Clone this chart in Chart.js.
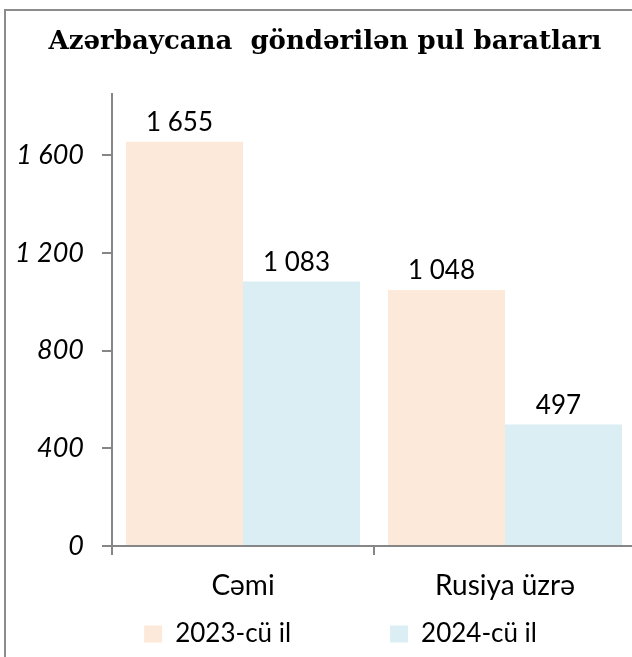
<!DOCTYPE html>
<html>
<head>
<meta charset="utf-8">
<script src="https://cdn.jsdelivr.net/npm/chart.js@4.4.1/dist/chart.umd.min.js"></script>
<style>
  html, body { margin: 0; padding: 0; background: #fff; overflow: hidden; }
  #wrap { position: relative; width: 632px; height: 657px; overflow: hidden; }
  #frame { position: absolute; left: 4px; top: 9px; width: 700px; height: 700px;
           border-left: 2px solid #8c8c8c; border-top: 2px solid #8c8c8c; }
  #chart { position: absolute; left: 0; top: 0; }
</style>
</head>
<body>
<div id="wrap">
  <div id="frame"></div>
  <canvas id="chart" width="640" height="657"></canvas>
</div>
<script>
const categories = ["Cəmi", "Rusiya üzrə"];
const seriesNames = ["2023-cü il", "2024-cü il"];
const values2023 = [1655, 1048];
const values2024 = [1083, 497];
const yTicks = [0, 400, 800, 1200, 1600];
const yMax = 1850;

const axisGray = "#868686";
const fmt = v => String(v).replace(/\B(?=(\d{3})+(?!\d))/g, " ");

// value labels above each bar
const barValueLabels = {
  id: "barValueLabels",
  afterDatasetsDraw(chart) {
    const ctx = chart.ctx;
    ctx.save();
    ctx.font = "26px Lato";
    ctx.fillStyle = "#000";
    ctx.textAlign = "center";
    ctx.textBaseline = "bottom";
    chart.data.datasets.forEach((ds, i) => {
      chart.getDatasetMeta(i).data.forEach((bar, j) => {
        ctx.fillText(fmt(ds.data[j]), bar.x - 5, bar.y - 6);
      });
    });
    ctx.restore();
  }
};

const ctx = document.getElementById("chart").getContext("2d");
new Chart(ctx, {
  type: "bar",
  data: {
    labels: categories,
    datasets: [
      {
        label: seriesNames[0],
        data: values2023,
        backgroundColor: "#FDE9D9",
        barPercentage: 1,
        categoryPercentage: 0.893,
      },
      {
        label: seriesNames[1],
        data: values2024,
        backgroundColor: "#DAEEF3",
        barPercentage: 1,
        categoryPercentage: 0.893,
      },
    ],
  },
  options: {
    responsive: false,
    animation: false,
    layout: { padding: { left: 14, right: 4, top: 0, bottom: 0 } },
    scales: {
      x: {
        grid: { offset: true, drawOnChartArea: false, tickLength: 9, color: axisGray, lineWidth: 2 },
        border: { color: axisGray, width: 2 },
        ticks: { padding: 14, color: "#000", font: { family: "Lato", size: 28 } },
        afterFit: s => { s.height = 57; },
      },
      y: {
        min: 0,
        max: yMax,
        afterBuildTicks: s => { s.ticks = yTicks.map(v => ({ value: v })); },
        grid: { drawOnChartArea: false, tickLength: 10, color: axisGray, lineWidth: 2 },
        border: { color: axisGray, width: 2 },
        ticks: {
          padding: 18,
          color: "#000",
          font: { family: "Lato", size: 27, style: "italic" },
          callback: v => fmt(v),
        },
        afterFit: s => { s.width = 98; },
      },
    },
    plugins: {
      title: {
        display: true,
        text: "Azərbaycana  göndərilən pul baratları",
        color: "#000",
        font: { family: "DejaVu Serif", size: 26, weight: "bold" },
        padding: { top: 26.5, bottom: 36.3 },
      },
      legend: {
        position: "bottom",
        align: "end",
        // empty title with negative padding pulls the items back up
        title: { display: true, text: "", font: { size: 10 }, padding: -46.5 },
        labels: {
          boxWidth: 18,
          boxHeight: 17,
          padding: 99,
          color: "#000",
          font: { family: "Lato", size: 26 },
        },
      },
      tooltip: { enabled: false },
    },
  },
  plugins: [barValueLabels],
});
</script>
</body>
</html>
